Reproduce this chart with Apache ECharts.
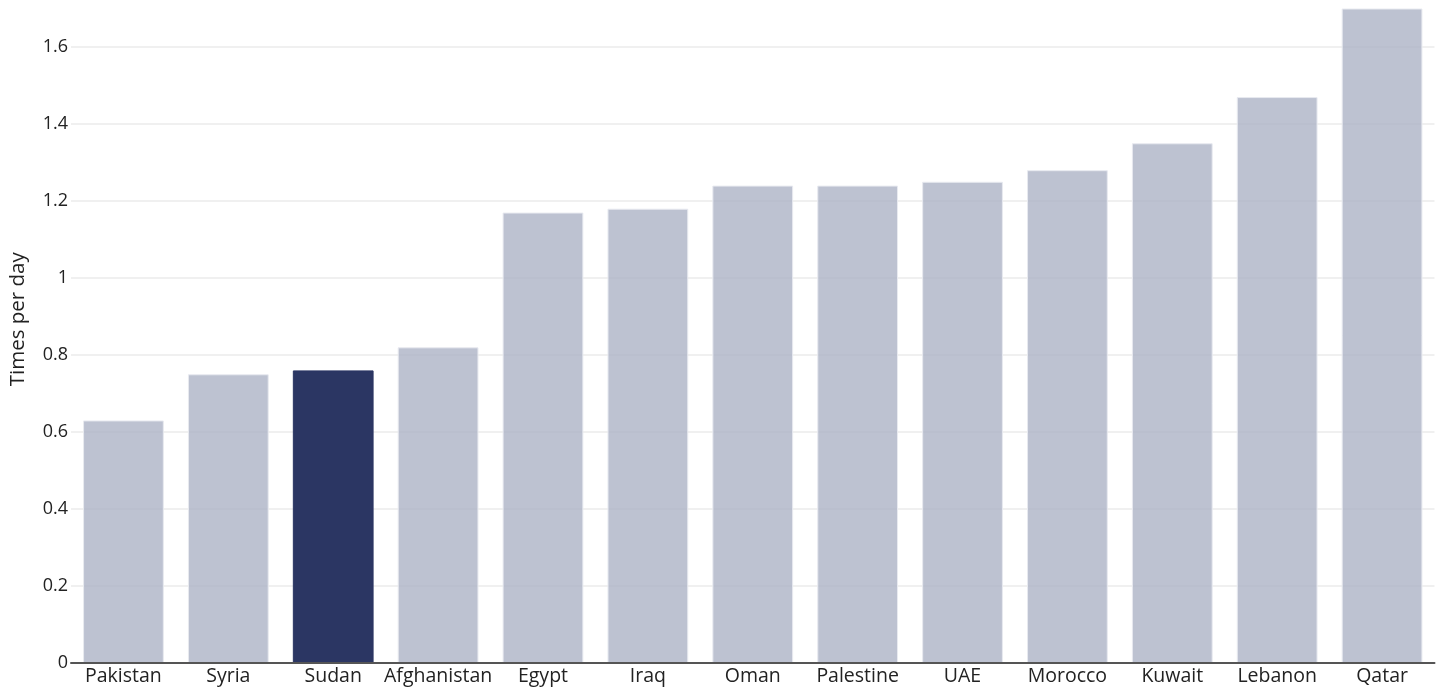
<!DOCTYPE html>
<html>
<head>
<meta charset="utf-8">
<script src="https://cdn.jsdelivr.net/npm/echarts@6/dist/echarts.min.js"></script>
<style>
  html, body { margin: 0; padding: 0; background: #fff; }
  #chart { width: 1441px; height: 691px; }
</style>
</head>
<body>
<div id="chart"></div>
<script>
const categories = ['Pakistan', 'Syria', 'Sudan', 'Afghanistan', 'Egypt', 'Iraq', 'Oman', 'Palestine', 'UAE', 'Morocco', 'Kuwait', 'Lebanon', 'Qatar'];
const values = [0.63, 0.75, 0.76, 0.82, 1.17, 1.18, 1.24, 1.24, 1.25, 1.28, 1.35, 1.47, 1.70];
const highlight = 'Sudan';
const yTicks = [0, 0.2, 0.4, 0.6, 0.8, 1, 1.2, 1.4, 1.6];

const font = '"Open Sans", "Noto Sans", sans-serif';
const chart = echarts.init(document.getElementById('chart'), null, { renderer: 'canvas' });
chart.setOption({
  animation: false,
  grid: { left: 70, right: 6.5, top: 8.5, bottom: 28, containLabel: false },
  xAxis: {
    type: 'category',
    data: categories,
    axisLine: { show: true, lineStyle: { color: '#555', width: 2 } },
    axisTick: { show: false },
    axisLabel: { color: '#222', fontSize: 19.5, fontFamily: font, margin: 3, interval: 0 },
    z: 10
  },
  yAxis: {
    type: 'value',
    min: 0,
    max: 1.7,
    interval: 0.2,
    name: 'Times per day',
    nameLocation: 'middle',
    nameGap: 42,
    nameTextStyle: { color: '#222', fontSize: 20.5, fontFamily: font, padding: [0, 0, 0, 33] },
    axisLine: { show: false },
    axisTick: { show: false },
    axisLabel: {
      color: '#222', fontSize: 18, fontFamily: font, margin: 3,
      showMaxLabel: false,
      formatter: v => yTicks.indexOf(Math.round(v * 10) / 10) >= 0 ? String(Math.round(v * 10) / 10) : ''
    },
    splitLine: { show: true, showMaxLine: false, lineStyle: { color: '#ebebeb', width: 1.5 } }
  },
  series: [{
    type: 'bar',
    barCategoryGap: '23%',
    data: values.map((v, i) => ({
      value: v,
      itemStyle: {
        color: categories[i] === highlight ? '#2b3663' : 'rgba(178,183,201,0.85)',
        borderColor: categories[i] === highlight ? '#2b3663' : '#e8eaf0',
        borderWidth: 1
      }
    })),
    z: 5
  }]
});
</script>
</body>
</html>
